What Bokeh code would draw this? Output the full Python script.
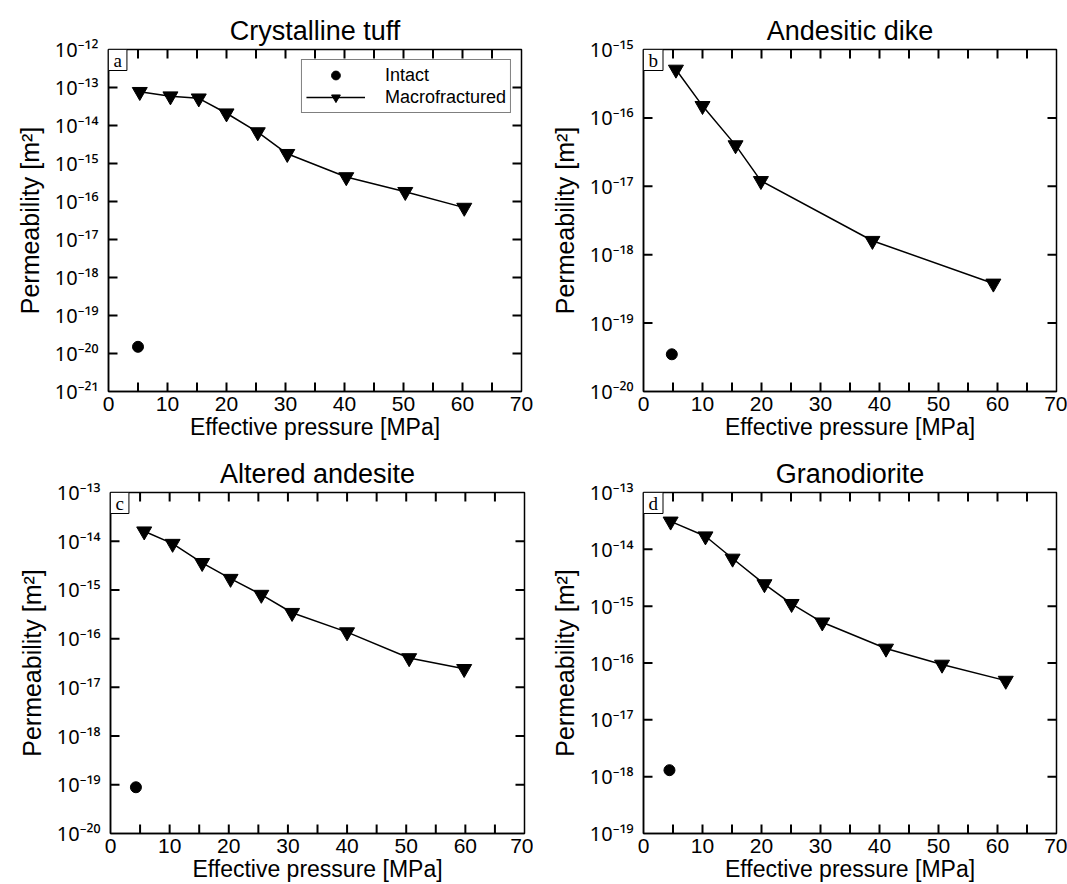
from bokeh.plotting import figure
from bokeh.models import (Range1d, FixedTicker, CustomJSTickFormatter,
                          Legend, LegendItem, Label)
from bokeh.layouts import column, row
from bokeh.embed import file_html
from bokeh.resources import INLINE

# ---------------- data ----------------
titles = ["Crystalline tuff", "Andesitic dike", "Altered andesite", "Granodiorite"]
letters = ["a", "b", "c", "d"]
x_label = "Effective pressure [MPa]"
y_label = "Permeability [m\u00b2]"

a_x_frac = [5.3, 10.5, 15.3, 20.0, 25.3, 30.3, 40.3, 50.3, 60.3]
a_k_frac = [7.7e-14, 5.9e-14, 5.2e-14, 2.1e-14, 6.7e-15, 1.8e-15, 4.4e-16, 1.8e-16, 6.9e-17]
a_x_intact = [5.0]
a_k_intact = [1.5e-20]

b_x_frac = [5.5, 10.0, 15.6, 19.9, 38.8, 59.3]
b_k_frac = [5.1e-16, 1.5e-16, 4.0e-17, 1.2e-17, 1.6e-18, 3.8e-19]
b_x_intact = [4.8]
b_k_intact = [3.5e-20]

c_x_frac = [5.7, 10.5, 15.5, 20.3, 25.5, 30.7, 40.0, 50.5, 59.8]
c_k_frac = [1.6e-14, 8.9e-15, 3.6e-15, 1.7e-15, 8.0e-16, 3.4e-16, 1.36e-16, 4.0e-17, 2.4e-17]
c_x_intact = [4.3]
c_k_intact = [8.9e-20]

d_x_frac = [4.6, 10.5, 15.1, 20.5, 25.1, 30.3, 41.1, 50.6, 61.4]
d_k_frac = [3.1e-14, 1.7e-14, 6.9e-15, 2.45e-15, 1.1e-15, 5.2e-16, 1.8e-16, 9.4e-17, 4.9e-17]
d_x_intact = [4.4]
d_k_intact = [1.3e-18]

# decade exponents of the y ranges
y_exp = [(-21, -12), (-20, -15), (-20, -13), (-19, -13)]
x_min, x_max = 0, 70
x_label_ticks = [0, 10, 20, 30, 40, 50, 60, 70]
x_all_ticks = [5, 10, 15, 20, 25, 30, 35, 40, 45, 50, 55, 60, 65]

FONT = "Liberation Sans"
TICK_FONT = "Noto Sans"
TICK_PX = 9  # inward tick length in pixels

sup_js = """
const e = Math.round(Math.log10(tick));
const m = {'-':'\\u207b','0':'\\u2070','1':'\\u00b9','2':'\\u00b2','3':'\\u00b3',
           '4':'\\u2074','5':'\\u2075','6':'\\u2076','7':'\\u2077','8':'\\u2078','9':'\\u2079'};
return '10' + String(e).split('').map(c => m[c]).join('');
"""


def make_panel(idx, xf, kf, xi, ki, width, height, borders, legend=False):
    e0, e1 = y_exp[idx]
    y0, y1 = 10.0 ** e0, 10.0 ** e1
    left, right, top, bottom = borders
    frame_w = width - left - right
    frame_h = height - top - bottom
    p = figure(width=width, height=height,
               x_range=Range1d(x_min, x_max), y_range=Range1d(y0, y1),
               y_axis_type="log", output_backend="svg", toolbar_location=None,
               min_border_left=left, min_border_right=right,
               min_border_top=top, min_border_bottom=bottom,
               background_fill_color="white", border_fill_color="white")
    p.xgrid.visible = False
    p.ygrid.visible = False
    p.outline_line_color = "black"
    p.outline_line_width = 1.5

    p.title.text = titles[idx]
    p.title.align = "center"
    p.title.text_font = FONT
    p.title.text_font_size = "27px"
    p.title.text_font_style = "normal"
    p.title.text_color = "black"
    p.title.standoff = 8

    yticks = [10.0 ** e for e in range(e0, e1 + 1)]

    # bottom axis
    xa = p.xaxis[0]
    xa.ticker = FixedTicker(ticks=x_label_ticks)
    xa.axis_label = x_label
    xa.axis_label_text_font = FONT
    xa.axis_label_text_font_size = "23px"
    xa.axis_label_text_font_style = "normal"
    xa.axis_label_text_color = "black"
    xa.axis_label_standoff = 0
    xa.major_label_text_font = FONT
    xa.major_label_text_font_size = "21px"
    xa.major_label_text_color = "black"
    xa.major_label_standoff = 5
    xa.major_tick_in = 0
    xa.major_tick_out = 0
    xa.minor_tick_in = 0
    xa.minor_tick_out = 0
    xa.axis_line_width = 1.5

    # left axis
    ya = p.yaxis[0]
    ya.ticker = FixedTicker(ticks=yticks)
    ya.formatter = CustomJSTickFormatter(code=sup_js)
    ya.axis_label = y_label
    ya.axis_label_text_font = FONT
    ya.axis_label_text_font_size = "25px"
    ya.axis_label_text_font_style = "normal"
    ya.axis_label_text_color = "black"
    ya.axis_label_standoff = 8
    ya.major_label_text_font = TICK_FONT
    ya.major_label_text_font_size = "20px"
    ya.major_label_text_color = "black"
    ya.major_label_standoff = 10
    ya.major_tick_in = 0
    ya.major_tick_out = 0
    ya.minor_tick_in = 0
    ya.minor_tick_out = 0
    ya.axis_line_width = 1.5

    # inward tick marks on all four sides, drawn as short segments
    dx = (x_max - x_min) * TICK_PX / frame_w
    fy = 10.0 ** ((e1 - e0) * TICK_PX / frame_h)
    nx = len(x_all_ticks)
    p.segment(x0=x_all_ticks, y0=[y0] * nx, x1=x_all_ticks, y1=[y0 * fy] * nx,
              line_color="black", line_width=2)
    p.segment(x0=x_all_ticks, y0=[y1] * nx, x1=x_all_ticks, y1=[y1 / fy] * nx,
              line_color="black", line_width=2)
    inner = yticks[1:-1]
    ny = len(inner)
    p.segment(x0=[x_min] * ny, y0=inner, x1=[x_min + dx] * ny, y1=inner,
              line_color="black", line_width=2)
    p.segment(x0=[x_max] * ny, y0=inner, x1=[x_max - dx] * ny, y1=inner,
              line_color="black", line_width=2)

    ln = p.line(xf, kf, line_color="black", line_width=1.5)
    tri = p.scatter(xf, kf, marker="inverted_triangle", size=15,
                    fill_color="black", line_color="black")
    circ = p.scatter(xi, ki, marker="circle", size=11,
                     fill_color="black", line_color="black")

    lab = Label(x=x_min, y=y1, text=letters[idx],
                text_align="left", text_baseline="top",
                x_offset=0, y_offset=0, padding=(5, 0),
                text_font="Liberation Serif", text_font_size="19px", text_color="black",
                border_line_color="black", border_line_width=1,
                background_fill_color="white")
    p.add_layout(lab)

    if legend:
        lg = Legend(items=[LegendItem(label="Intact", renderers=[circ]),
                           LegendItem(label="Macrofractured", renderers=[ln, tri])],
                    location="top_right", margin=10, padding=4, spacing=0,
                    glyph_width=59, glyph_height=22, label_height=22, label_standoff=20,
                    label_text_font=FONT, label_text_font_size="18px",
                    label_text_color="black",
                    border_line_color="black", border_line_width=1.3,
                    background_fill_color="white", background_fill_alpha=1.0)
        p.add_layout(lg)
    return p


pa = make_panel(0, a_x_frac, a_k_frac, a_x_intact, a_k_intact, 533, 442, (108, 12, 49, 49), legend=True)
pb = make_panel(1, b_x_frac, b_k_frac, b_x_intact, b_k_intact, 534, 442, (110, 11, 49, 49))
pc = make_panel(2, c_x_frac, c_k_frac, c_x_intact, c_k_intact, 533, 442, (110, 9, 50, 48))
pd = make_panel(3, d_x_frac, d_k_frac, d_x_intact, d_k_intact, 534, 442, (110, 11, 50, 48))

layout = column(row(pa, pb), row(pc, pd))
open("out.html", "w").write(file_html(layout, INLINE))
